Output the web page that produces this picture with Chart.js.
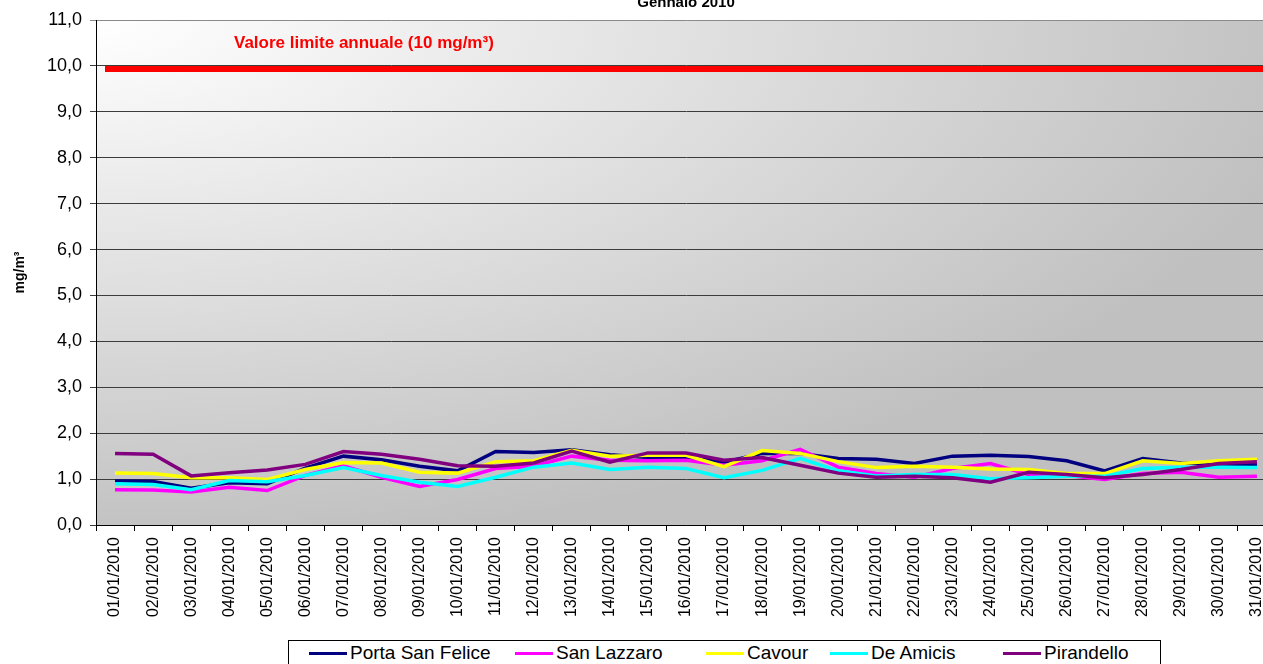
<!DOCTYPE html>
<html>
<head>
<meta charset="utf-8">
<script src="https://cdn.jsdelivr.net/npm/chart.js@4/dist/chart.umd.min.js"></script>
<style>
  html, body { margin:0; padding:0; background:#fff; overflow:hidden; }
  #wrap { position:relative; width:1290px; height:664px; }
  #legend {
    position:absolute; left:288px; top:640px; width:871px; height:24px;
    border:1px solid #000; background:#fff;
    font:19px "Liberation Sans", Arial, sans-serif; color:#000;
  }
  #legend .item { position:absolute; top:0; height:24px; display:flex; align-items:center; white-space:nowrap; }
  #legend .sw { width:38px; height:3px; margin-right:3px; }
</style>
</head>
<body>
<div id="wrap">
  <canvas id="chart"></canvas>
  <div id="legend"></div>
</div>
<script>
// Gennaio 2010 - concentrazioni giornaliere (mg/m3)

const days = ['01/01/2010','02/01/2010','03/01/2010','04/01/2010','05/01/2010','06/01/2010','07/01/2010','08/01/2010',
  '09/01/2010','10/01/2010','11/01/2010','12/01/2010','13/01/2010','14/01/2010','15/01/2010','16/01/2010',
  '17/01/2010','18/01/2010','19/01/2010','20/01/2010','21/01/2010','22/01/2010','23/01/2010','24/01/2010',
  '25/01/2010','26/01/2010','27/01/2010','28/01/2010','29/01/2010','30/01/2010','31/01/2010'];

const portaSanFelice = [0.96,0.95,0.80,0.92,0.90,1.24,1.50,1.42,1.28,1.18,1.60,1.58,1.64,1.53,1.47,1.47,
  1.37,1.56,1.56,1.45,1.43,1.34,1.50,1.52,1.49,1.40,1.18,1.45,1.35,1.33,1.32];
const sanLazzaro = [0.77,0.76,0.72,0.82,0.75,1.08,1.29,1.04,0.84,0.99,1.23,1.28,1.50,1.41,1.40,1.41,
  1.30,1.40,1.65,1.26,1.12,1.04,1.23,1.34,1.10,1.08,0.99,1.12,1.15,1.04,1.06];
const cavour = [1.13,1.12,1.03,1.03,0.99,1.21,1.36,1.35,1.15,1.13,1.38,1.40,1.63,1.50,1.52,1.52,
  1.27,1.62,1.56,1.38,1.25,1.28,1.26,1.22,1.21,1.12,1.12,1.40,1.34,1.40,1.43];
const deAmicis = [0.90,0.88,0.77,0.97,0.94,1.08,1.25,1.08,0.93,0.84,1.04,1.26,1.35,1.21,1.26,1.23,
  1.03,1.19,1.45,1.18,1.07,1.10,1.10,1.01,1.03,1.06,1.06,1.23,1.26,1.26,1.25];
const pirandello = [1.56,1.54,1.07,1.14,1.20,1.32,1.60,1.54,1.43,1.29,1.28,1.35,1.61,1.37,1.57,1.57,
  1.41,1.47,1.30,1.13,1.04,1.06,1.03,0.93,1.15,1.10,1.03,1.10,1.21,1.34,1.38];

const seriesNames = ['Porta San Felice','San Lazzaro','Cavour','De Amicis','Pirandello'];
const seriesColors = ['#000080','#ff00ff','#ffff00','#00ffff','#800080'];
const seriesData = [portaSanFelice, sanLazzaro, cavour, deAmicis, pirandello];

const yTicks = [0,1,2,3,4,5,6,7,8,9,10,11];
const LIMIT = 10;
const limitLabel = 'Valore limite annuale (10 mg/m³)';
const titleText = 'Gennaio 2010';
const yTitle = 'mg/m³';

const FONT = '"Liberation Sans", Arial, sans-serif';
Chart.defaults.font.family = FONT;
Chart.defaults.color = '#000';

// plot area background: light corner top-left fading to grey
const plotBg = {
  id:'plotBg',
  beforeDraw(chart){
    const {ctx, chartArea:a} = chart;
    const w = a.right - a.left, h = a.bottom - a.top;
    ctx.save();
    ctx.beginPath(); ctx.rect(a.left, a.top, w, h); ctx.clip();
    ctx.translate(a.left, a.top);
    ctx.scale(w/h, 1);
    const g = ctx.createRadialGradient(0,0,0,0,0,h*1.05);
    g.addColorStop(0,'#ffffff');
    g.addColorStop(1,'#c0c0c0');
    ctx.fillStyle = g;
    ctx.fillRect(0,0,h*1.2,h*1.2);
    ctx.restore();
  }
};

// limit line + its label + chart title
const extras = {
  id:'extras',
  afterDatasetsDraw(chart){
    const {ctx, chartArea:a, scales:{y}} = chart;
    const yl = y.getPixelForValue(LIMIT) + 3;
    ctx.save();
    ctx.strokeStyle = '#ff0000';
    ctx.lineWidth = 6;
    ctx.beginPath(); ctx.moveTo(a.left + 9, yl); ctx.lineTo(a.right, yl); ctx.stroke();

    ctx.fillStyle = '#ff0000';
    ctx.font = 'bold 17px ' + FONT;
    ctx.textBaseline = 'middle';
    ctx.textAlign = 'left';
    ctx.fillText(limitLabel, a.left + 138, y.getPixelForValue(10.5));

    ctx.fillStyle = '#000';
    ctx.font = 'bold 15px ' + FONT;
    ctx.textAlign = 'center';
    ctx.fillText(titleText, (a.left + a.right)/2, 3);
    ctx.restore();
  }
};

const datasets = seriesNames.map((name,i)=>({
  label: name,
  data: seriesData[i],
  borderColor: seriesColors[i],
  backgroundColor: seriesColors[i],
  borderWidth: 3.5,
  pointRadius: 0,
  tension: 0,
  fill: false,
  order: seriesNames.length - i
}));

new Chart(document.getElementById('chart'), {
  type:'line',
  data:{ labels: days, datasets },
  options:{
    responsive:true,
    maintainAspectRatio:false,
    animation:false,
    layout:{ padding:{ left:0, right:14, top:20, bottom:34 } },
    plugins:{ legend:{display:false}, tooltip:{enabled:false}, title:{display:false} },
    scales:{
      x:{
        offset:true,
        grid:{ offset:true, drawOnChartArea:false, drawTicks:true, tickLength:6, color:'#000' },
        border:{ color:'#000', width:1 },
        ticks:{ minRotation:90, maxRotation:90, autoSkip:false, padding:6, font:{size:16} },
        afterFit(s){ s.height = 105; }
      },
      y:{
        min:0, max:11,
        afterBuildTicks(s){ s.ticks = yTicks.map(v=>({value:v})); },
        grid:{
          color: c => (c.tick && c.tick.value === 11) ? '#8a8a8a' : '#3c3c3c',
          lineWidth:1, tickLength:6, drawTicks:true
        },
        border:{ color:'#000', width:1 },
        ticks:{ padding:8, font:{size:18}, callback: v => Number(v).toFixed(1).replace('.', ',') },
        title:{ display:true, text:yTitle, font:{size:14, weight:'bold'}, padding:{top:12, bottom:0} },
        afterFit(s){ s.width = 96; }
      }
    }
  },
  plugins:[plotBg, extras]
});

// legend box (item left offsets inside the box)
const legendOffsets = [20, 226, 417, 541, 714];
const leg = document.getElementById('legend');
seriesNames.forEach((name,i)=>{
  const it = document.createElement('div');
  it.className = 'item';
  it.style.left = legendOffsets[i] + 'px';
  const sw = document.createElement('span');
  sw.className = 'sw';
  sw.style.background = seriesColors[i];
  const tx = document.createElement('span');
  tx.textContent = name;
  it.appendChild(sw); it.appendChild(tx);
  leg.appendChild(it);
});
</script>
</body>
</html>
